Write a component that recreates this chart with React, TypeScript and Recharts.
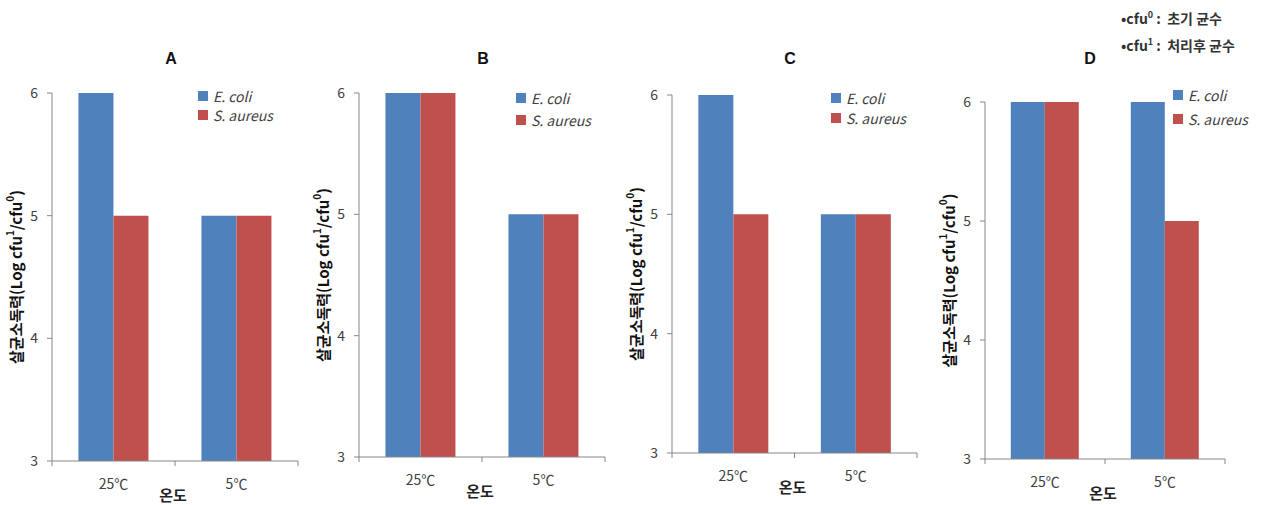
import React from "react";
import { BarChart, Bar, XAxis, YAxis, Legend, Label } from "recharts";

// categories and values
const temperatures = ["25℃", "5℃"];
const seriesNames = ["E. coli", "S. aureus"];
const panelTitles = ["A", "B", "C", "D"];

const ecoliA = [6, 5];
const aureusA = [5, 5];
const ecoliB = [6, 5];
const aureusB = [6, 5];
const ecoliC = [6, 5];
const aureusC = [5, 5];
const ecoliD = [6, 6];
const aureusD = [6, 5];

const yTicks = [3, 4, 5, 6];

const BLUE = "#4F81BD";
const RED = "#C0504D";
const AXIS = "#868686";
const TEXT = "#404040";
const FONT = "'Noto Sans CJK KR', 'Noto Sans', sans-serif";

// positioning for each panel (page pixels)
const layouts = [
  { left: 0, width: 300, plot: { l: 52, r: 298, t: 93, b: 461 }, titleX: 171, legend: { x: 198, y: 91, gap: 19 } },
  { left: 300, width: 315, plot: { l: 359, r: 605, t: 93, b: 457 }, titleX: 483, legend: { x: 516, y: 93, gap: 22 } },
  { left: 615, width: 315, plot: { l: 672, r: 917, t: 95, b: 453 }, titleX: 790, legend: { x: 831, y: 93, gap: 20 } },
  { left: 930, width: 332, plot: { l: 985, r: 1225, t: 102, b: 459 }, titleX: 1090, legend: { x: 1173, y: 90, gap: 24 } },
];

const panelData = [
  [ecoliA, aureusA],
  [ecoliB, aureusB],
  [ecoliC, aureusC],
  [ecoliD, aureusD],
];

const CHART_H = 505;
const Y_AXIS_W = 30;

const XTick = (props: any) => {
  const { x, y, payload, index, width, visibleTicksCount } = props;
  const half = payload?.offset ?? width / (2 * (visibleTicksCount || 2));
  return (
    <g>
      {index === 0 && <line x1={x - half} x2={x - half} y1={y} y2={y + 5} stroke={AXIS} />}
      <line x1={x + half} x2={x + half} y1={y} y2={y + 5} stroke={AXIS} />
      <text x={x} y={y + 22} textAnchor="middle" dominantBaseline="central" fontSize={14} fill={TEXT} fontFamily={FONT}>
        {payload.value}
      </text>
    </g>
  );
};

const YLabel = ({ viewBox }: any) => {
  const cx = viewBox.x + viewBox.width - 37;
  const cy = viewBox.y + viewBox.height / 2;
  return (
    <text
      x={cx}
      y={cy}
      transform={`rotate(-90 ${cx} ${cy})`}
      textAnchor="middle"
      dominantBaseline="central"
      fontSize={15}
      fontWeight="bold"
      fill="#111"
      fontFamily={FONT}
    >
      살균소독력(Log cfu
      <tspan dy={-6} fontSize={10}>1</tspan>
      <tspan dy={6}>/cfu</tspan>
      <tspan dy={-6} fontSize={10}>0</tspan>
      <tspan dy={6}>)</tspan>
    </text>
  );
};

const XLabel = ({ viewBox }: any) => (
  <text
    x={viewBox.x + viewBox.width / 2 - 2}
    y={viewBox.y + 33}
    textAnchor="middle"
    dominantBaseline="central"
    fontSize={15}
    fontWeight="bold"
    fill="#222"
    fontFamily={FONT}
  >
    온도
  </text>
);

const LegendBox = ({ payload, gap }: any) => (
  <div style={{ fontFamily: FONT }}>
    {(payload || []).map((item: any, i: number) => (
      <div key={i} style={{ display: "flex", alignItems: "center", height: 10, marginBottom: gap - 10 }}>
        <span style={{ width: 10, height: 10, background: item.color, display: "inline-block", marginRight: 5 }} />
        <span style={{ fontStyle: "italic", fontSize: 14, color: TEXT, whiteSpace: "nowrap" }}>{item.value}</span>
      </div>
    ))}
  </div>
);

const Panel = ({ idx }: { idx: number }) => {
  const lay = layouts[idx];
  const [ecoli, aureus] = panelData[idx];
  const data = temperatures.map((t, i) => ({ name: t, ecoli: ecoli[i], aureus: aureus[i] }));
  const p = lay.plot;
  const margin = {
    top: p.t,
    bottom: 2,
    left: p.l - lay.left - Y_AXIS_W,
    right: lay.left + lay.width - p.r,
  };
  return (
    <div style={{ position: "absolute", left: lay.left, top: 0 }}>
      <BarChart width={lay.width} height={CHART_H} data={data} margin={margin} barCategoryGap="21.5%" barGap={0}>
        <text
          x={lay.titleX - lay.left}
          y={58}
          textAnchor="middle"
          dominantBaseline="central"
          fontSize={16}
          fontWeight="bold"
          fill="#111"
          fontFamily="'Liberation Sans', Arial, sans-serif"
        >
          {panelTitles[idx]}
        </text>
        <XAxis
          dataKey="name"
          height={CHART_H - p.b - 2}
          axisLine={{ stroke: AXIS }}
          tickLine={false}
          tickSize={0}
          tickMargin={0}
          tick={<XTick />}
          interval={0}
        >
          <Label content={<XLabel />} />
        </XAxis>
        <YAxis
          width={Y_AXIS_W}
          domain={[3, 6]}
          ticks={yTicks}
          allowDataOverflow
          axisLine={{ stroke: AXIS }}
          tickLine={{ stroke: AXIS }}
          tickSize={5}
          tickMargin={9}
          tick={{ fontSize: 14, fill: TEXT, fontFamily: FONT }}
        >
          <Label content={<YLabel />} />
        </YAxis>
        <Legend
          layout="horizontal"
          verticalAlign="middle"
          align="center"
          wrapperStyle={{ left: lay.legend.x - lay.left, top: lay.legend.y, width: "auto", height: "auto" }}
          content={<LegendBox gap={lay.legend.gap} />}
        />
        <Bar dataKey="ecoli" name={seriesNames[0]} fill={BLUE} isAnimationActive={false} />
        <Bar dataKey="aureus" name={seriesNames[1]} fill={RED} isAnimationActive={false} />
      </BarChart>
    </div>
  );
};

export default function App() {
  return (
    <div style={{ position: "absolute", left: 0, top: 0, width: 1262, height: 505, background: "#fff" }}>
      {panelTitles.map((_, i) => (
        <Panel key={i} idx={i} />
      ))}
      {/* footnote, top right */}
      <div
        style={{
          position: "absolute",
          left: 1121,
          top: 3,
          fontFamily: FONT,
          fontSize: 14,
          fontWeight: "bold",
          color: "#333",
          lineHeight: "23px",
          whiteSpace: "nowrap",
        }}
      >
        <div>
          •cfu<sup style={{ fontSize: 9 }}>0</sup> :&nbsp; 초기 균수
        </div>
        <div>
          •cfu<sup style={{ fontSize: 9 }}>1</sup> :&nbsp; 처리후 균수
        </div>
      </div>
    </div>
  );
}
